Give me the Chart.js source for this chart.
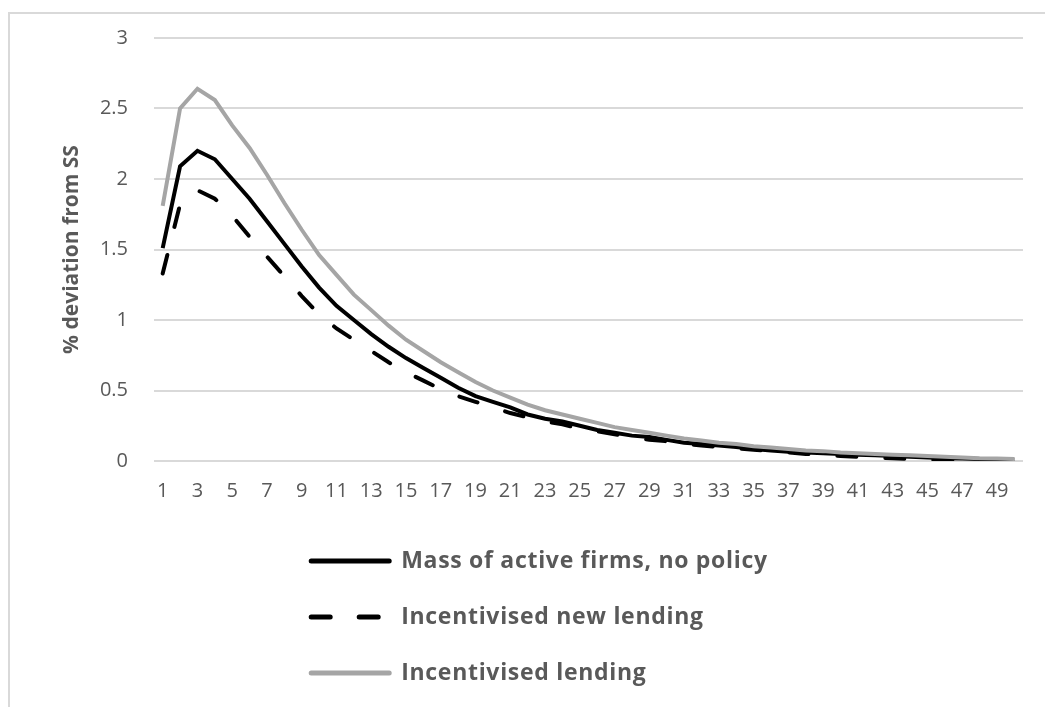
<!DOCTYPE html>
<html>
<head>
<meta charset="utf-8">
<script src="https://cdn.jsdelivr.net/npm/chart.js@4.4.1/dist/chart.umd.min.js"></script>
<style>
  html, body { margin: 0; padding: 0; background: #fff; }
  #frame {
    position: absolute; left: 8px; top: 12px; right: -4px; bottom: -4px;
    border-left: 2px solid #d9d9d9; border-top: 2px solid #d9d9d9;
  }
  #wrap { position: absolute; left: 0; top: 0; width: 1045px; height: 707px; }
</style>
</head>
<body>
<div id="frame"></div>
<div id="wrap"><canvas id="chart" width="1045" height="707"></canvas></div>
<script>
// Periods after the shock
const periods = [
  1, 2, 3, 4, 5, 6, 7, 8, 9, 10,
  11, 12, 13, 14, 15, 16, 17, 18, 19, 20,
  21, 22, 23, 24, 25, 26, 27, 28, 29, 30,
  31, 32, 33, 34, 35, 36, 37, 38, 39, 40,
  41, 42, 43, 44, 45, 46, 47, 48, 49, 50
];

// Mass of active firms, no policy
const noPolicy = [
  1.51, 2.09, 2.20, 2.14, 2.00, 1.86, 1.70, 1.54, 1.38, 1.23,
  1.10, 1.00, 0.90, 0.81, 0.73, 0.66, 0.59, 0.52, 0.46, 0.42,
  0.38, 0.33, 0.30, 0.28, 0.25, 0.22, 0.20, 0.18, 0.17, 0.15,
  0.13, 0.12, 0.11, 0.10, 0.085, 0.075, 0.065, 0.06, 0.055, 0.05,
  0.045, 0.04, 0.035, 0.03, 0.025, 0.02, 0.018, 0.015, 0.012, 0.01
];

// Incentivised new lending
const newLending = [
  1.33, 1.82, 1.92, 1.86, 1.74, 1.59, 1.45, 1.31, 1.17, 1.04,
  0.94, 0.86, 0.78, 0.70, 0.63, 0.57, 0.51, 0.46, 0.42, 0.38,
  0.34, 0.31, 0.28, 0.26, 0.23, 0.21, 0.19, 0.17, 0.15, 0.14,
  0.12, 0.11, 0.10, 0.09, 0.08, 0.07, 0.06, 0.05, 0.045, 0.035,
  0.03, 0.025, 0.02, 0.015, 0.01, 0.008, 0.006, 0.005, 0.004, 0.003
];

// Incentivised lending
const lending = [
  1.81, 2.50, 2.64, 2.56, 2.38, 2.22, 2.03, 1.83, 1.64, 1.46,
  1.32, 1.18, 1.07, 0.96, 0.86, 0.78, 0.70, 0.63, 0.56, 0.50,
  0.45, 0.40, 0.36, 0.33, 0.30, 0.27, 0.24, 0.22, 0.20, 0.18,
  0.16, 0.145, 0.13, 0.12, 0.105, 0.095, 0.085, 0.075, 0.07, 0.06,
  0.055, 0.05, 0.045, 0.04, 0.035, 0.03, 0.025, 0.02, 0.018, 0.015
];

const yTicks = [0, 0.5, 1, 1.5, 2, 2.5, 3];

const textColor = '#595959';
const gridColor = '#d9d9d9';
const fontFamily = '"Open Sans", Lato, sans-serif';

// Legend drawn as a vertical list under the plot, like the original
const lineLegend = {
  id: 'lineLegend',
  afterDraw(chart) {
    const { ctx, chartArea } = chart;
    const sampleLen = 82;
    const gap = 10;
    const rowGap = 56;
    ctx.save();
    ctx.font = 'bold 23px ' + fontFamily;
    ctx.letterSpacing = '0.7px';
    const widths = chart.data.datasets.map(ds => ctx.measureText(ds.label).width);
    const blockW = sampleLen + gap + Math.max(...widths);
    const x0 = (chart.width + 32) / 2 - blockW / 2;
    chart.data.datasets.forEach((ds, i) => {
      const y = chartArea.bottom + 100 + i * rowGap;
      ctx.beginPath();
      ctx.strokeStyle = ds.borderColor;
      ctx.lineWidth = ds.borderWidth + 1;
      ctx.lineCap = 'round';
      ctx.setLineDash(ds.borderDash || []);
      ctx.moveTo(x0 + 2, y);
      ctx.lineTo(x0 + sampleLen - 2, y);
      ctx.stroke();
      ctx.setLineDash([]);
      ctx.fillStyle = textColor;
      ctx.textBaseline = 'middle';
      ctx.textAlign = 'left';
      ctx.fillText(ds.label, x0 + sampleLen + gap, y);
    });
    ctx.restore();
  }
};

new Chart(document.getElementById('chart'), {
  type: 'line',
  data: {
    labels: periods,
    datasets: [
      {
        label: 'Mass of active firms, no policy',
        data: noPolicy,
        borderColor: '#000000',
        borderWidth: 4,
        pointRadius: 0,
        tension: 0,
        order: 2
      },
      {
        label: 'Incentivised new lending',
        data: newLending,
        borderColor: '#000000',
        borderWidth: 4,
        borderDash: [19, 29],
        borderCapStyle: 'round',
        pointRadius: 0,
        tension: 0,
        order: 3
      },
      {
        label: 'Incentivised lending',
        data: lending,
        borderColor: '#a5a5a5',
        borderWidth: 4,
        pointRadius: 0,
        tension: 0,
        order: 1
      }
    ]
  },
  options: {
    responsive: false,
    animation: false,
    layout: { padding: { left: 8, right: 22, top: 38, bottom: 200 } },
    plugins: {
      legend: { display: false },
      tooltip: { enabled: false }
    },
    scales: {
      x: {
        offset: true,
        grid: { display: false, drawTicks: false },
        border: { display: false },
        ticks: {
          autoSkip: false,
          maxRotation: 0,
          padding: 18,
          color: textColor,
          font: { family: fontFamily, size: 20 },
          callback: (val, idx) => idx % 2 === 0 ? periods[idx] : ''
        },
        afterFit: (axis) => { axis.height = 46; }
      },
      y: {
        min: 0,
        max: 3,
        afterBuildTicks: (axis) => { axis.ticks = yTicks.map(v => ({ value: v })); },
        grid: { color: gridColor, lineWidth: 2, drawTicks: false },
        border: { display: false },
        ticks: {
          padding: 26,
          color: textColor,
          font: { family: fontFamily, size: 20 },
          callback: (v) => String(v)
        },
        title: {
          display: true,
          text: '% deviation from SS',
          color: textColor,
          font: { family: fontFamily, size: 21, weight: 'bold' },
          padding: { top: 51, bottom: 0 }
        },
        afterFit: (axis) => { axis.width = 146; }
      }
    }
  },
  plugins: [lineLegend]
});
</script>
</body>
</html>
